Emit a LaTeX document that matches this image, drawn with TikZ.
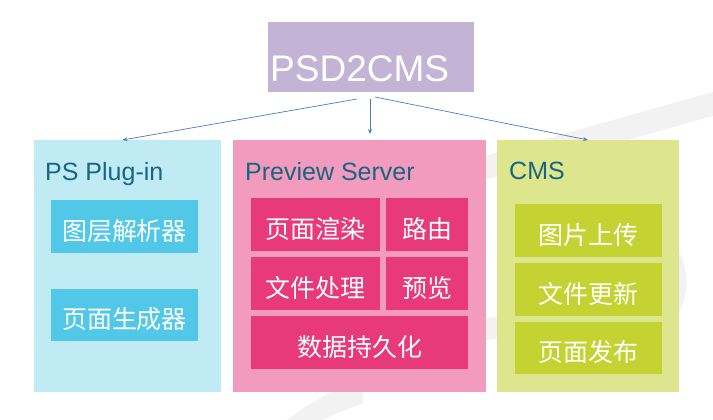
\documentclass[tikz,border=0pt]{standalone}
\usepackage{fontspec}
\setmainfont{Liberation Sans}
\newfontfamily\cjk{Noto Sans CJK SC}
\usetikzlibrary{arrows.meta}

\definecolor{topfill}{HTML}{C3B3D4}
\definecolor{plugfill}{HTML}{C0EAF4}
\definecolor{plugpart}{HTML}{52C8E8}
\definecolor{prevfill}{HTML}{F29BBE}
\definecolor{prevpart}{HTML}{E8397A}
\definecolor{cmsfill}{HTML}{DDE68C}
\definecolor{cmspart}{HTML}{C4D232}
\definecolor{headteal}{HTML}{17657F}
\definecolor{linkblue}{HTML}{4A7EBB}
\definecolor{swoosh}{HTML}{F2F2F2}

\begin{document}
\begin{tikzpicture}[x=1pt, y=-1pt,
  box/.style={inner sep=0pt, outer sep=0pt},
  part/.style={box, text=white, font=\cjk\fontsize{25}{25}\selectfont, text height=27pt, text depth=0pt},
  heading/.style={anchor=base west, inner sep=0pt, text=headteal, font=\fontsize{25}{25}\selectfont},
  link/.style={draw=linkblue, line width=0.7pt, -{Stealth[length=5pt, width=4pt]}}]

\useasboundingbox (0,0) rectangle (713,420);

% faint background swoosh
\fill[swoosh] (470,160) -- (713,92) -- (713,116) -- (470,184) -- cycle;
\fill[swoosh] (679,252) .. controls (689,270) and (689,295) .. (679,312) -- cycle;
\fill[swoosh] (484,319) -- (499,316) -- (499,338) -- (484,341) -- cycle;
\fill[swoosh] (287,420) .. controls (300,410) and (318,398) .. (333,392) -- (363,392) -- (363,403) .. controls (345,410) and (332,415) .. (322,420) -- cycle;

% top box
\node[box, fill=topfill, minimum width=206pt, minimum height=70pt] (top) at (371,57) {};
\node[anchor=base west, inner sep=0pt, text=white, font=\fontsize{37}{37}\selectfont] (toplabel) at (270,82) {PSD2CMS};

% containers
\node[box, fill=plugfill, minimum width=187pt, minimum height=252pt] (plugin) at (127.5,266) {};
\node[box, fill=prevfill, minimum width=253pt, minimum height=252pt] (preview) at (359.5,266) {};
\node[box, fill=cmsfill, minimum width=182pt, minimum height=252pt] (cms) at (588,266) {};

\node[heading] (pluginhead) at (45,180) {PS Plug-in};
\node[heading] (previewhead) at (245,180) {Preview Server};
\node[heading] (cmshead) at (509,179) {CMS};

% PS Plug-in parts
\node[part, fill=plugpart, minimum width=147pt, minimum height=53pt] (layer) at (124.5,226.5) {图层解析器};
\node[part, fill=plugpart, minimum width=147pt, minimum height=52pt] (pagegen) at (124.5,315) {页面生成器};

% Preview Server parts
\node[part, fill=prevpart, minimum width=129pt, minimum height=53pt] (render) at (315.5,224.5) {页面渲染};
\node[part, fill=prevpart, minimum width=82pt, minimum height=53pt] (route) at (427,224.5) {路由};
\node[part, fill=prevpart, minimum width=129pt, minimum height=53pt] (files) at (315.5,283.5) {文件处理};
\node[part, fill=prevpart, minimum width=82pt, minimum height=53pt] (look) at (427,283.5) {预览};
\node[part, fill=prevpart, minimum width=217pt, minimum height=53pt] (store) at (359.5,342.5) {数据持久化};

% CMS parts
\node[part, fill=cmspart, minimum width=147pt, minimum height=53pt] (upload) at (588.5,230.5) {图片上传};
\node[part, fill=cmspart, minimum width=147pt, minimum height=53pt] (update) at (588.5,289.5) {文件更新};
\node[part, fill=cmspart, minimum width=147pt, minimum height=52pt] (publish) at (588.5,348) {页面发布};

% connectors
\draw[link] ([shift={(-14,7)}]top.south) -- ([xshift=-5pt]plugin.north);
\draw[link, shorten >=6pt] ([shift={(-1,7)}]top.south) -- ([xshift=-1pt]top.south |- preview.north);
\draw[link] ([shift={(4,5)}]top.south) -- (cms.north);

\end{tikzpicture}
\end{document}
